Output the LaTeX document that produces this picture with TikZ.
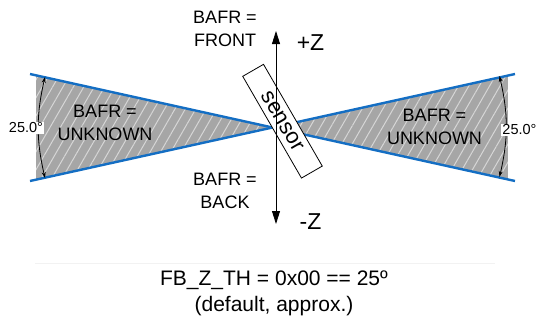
\documentclass[tikz,border=0pt]{standalone}
\usepackage{fontspec}
\setmainfont{Liberation Sans}
\usetikzlibrary{arrows.meta, calc, patterns.meta}
\definecolor{fovblue}{RGB}{20,110,195}
\definecolor{zonegray}{RGB}{166,166,166}
\definecolor{hatchgray}{RGB}{214,214,214}
\tikzset{x=1pt, y=-1pt,
zone/.style={fill=zonegray, draw=none},
hatch/.style={pattern={Lines[angle=60,distance=9pt,line width=1pt]}, pattern color=hatchgray},
fov/.style={draw=fovblue, line width=2.4pt},
axis/.style={draw, line width=0.8pt, -{Triangle[length=13pt,width=8pt]}},
span/.style={draw, line width=0.8pt, {Stealth[length=6pt,width=4pt]}-{Stealth[length=6pt,width=4pt]}},
lbl/.style={align=center, inner sep=0pt, font=\fontsize{18}{23}\selectfont},
zlbl/.style={inner sep=0pt, font=\fontsize{23}{26}\selectfont},
deg/.style={fill=white, inner sep=1pt, font=\fontsize{14.5}{16}\selectfont},
}
\newcommand{\zname}{BAFR =}

\begin{document}
\begin{tikzpicture}
\useasboundingbox (0,0) rectangle (536,322);
    \coordinate (c) at (272.5,127.5);
    \coordinate (lt) at (30,74);
    \coordinate (lb) at (30,181);
    \coordinate (rt) at (515,74);
    \coordinate (rb) at (515,181);
% hatched zones
    \path[zone] ($(c)!0.975!(lt)$) -- (c) -- ($(c)!0.975!(lb)$) -- cycle;
    \path[hatch] ($(c)!0.975!(lt)$) -- (c) -- ($(c)!0.975!(lb)$) -- cycle;
    \path[zone] ($(c)!0.971!(rt)$) -- (c) -- ($(c)!0.971!(rb)$) -- cycle;
    \path[hatch] ($(c)!0.971!(rt)$) -- (c) -- ($(c)!0.971!(rb)$) -- cycle;
% field of view edges
    \draw[fov] (lt) -- (rb);
    \draw[fov] (lb) -- (rt);
    \node[draw, fill=white, line width=0.8pt, rotate=-60, minimum width=117.5, minimum height=24, inner sep=0pt,
      font=\fontsize{22}{24}\selectfont] (sensor) at (282.5,121.2) {sensor};
% z axis
    \coordinate (zt) at (276,31);
    \coordinate (zb) at (276,224);
    \draw[axis] (c -| zt) -- (zt);
    \draw[axis] (c -| zb) -- (zb);
% angle spans
    \coordinate (a1) at (45,77);
    \coordinate (a2) at (45,178);
    \coordinate (a3) at (499.5,76);
    \coordinate (a4) at (499.5,177);
    \draw[span] (a1) to[bend right=13] (a2);
    \draw[span] (a3) to[bend left=13] (a4);
    \node[deg] (d1) at (26,128) {25.0°};
    \node[deg] (d2) at (519.5,130) {25.0°};
% labels
    \node[lbl] (front) at (225,28.5) {\zname\\FRONT};
    \node[lbl] (back) at (225,191) {\zname\\BACK};
    \node[lbl] (unk1) at (105,122.5) {\zname\\UNKNOWN};
    \node[lbl] (unk2) at (434.5,126.5) {\zname\\UNKNOWN};
    \node[zlbl] (pz) at (310.5,43) {+Z};
    \node[zlbl] (mz) at (310.5,221.5) {-Z};
    \coordinate (s1) at (35,263);
    \coordinate (s2) at (495,263);
    \draw[gray!10, line width=0.6pt] (s1) -- (s2);
    \node[align=center, inner sep=0pt, font=\fontsize{21}{26}\selectfont] (cap) at (274,293)
      {FB\_Z\_TH = 0x00 == 25º\\(default, approx.)};
\end{tikzpicture}
\end{document}
